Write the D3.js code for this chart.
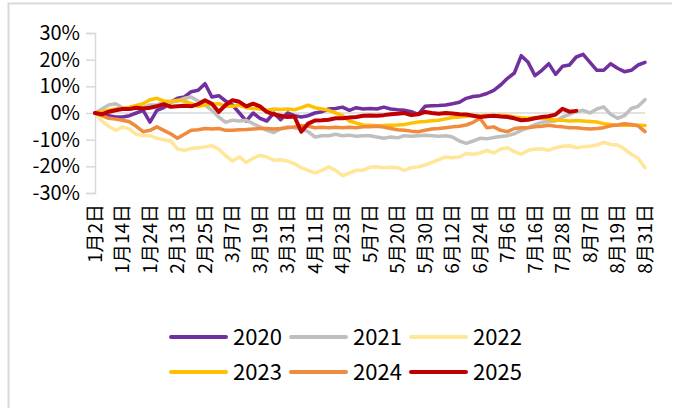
<!DOCTYPE html>
<html lang="zh">

<head>
    <meta charset="UTF-8">
    <title>历年走势对比</title>
    <style>
        body { margin: 0; background: #fff; }
        svg { display: block; }
    </style>
</head>

<body>
    <div>
        <svg id="lineChart"></svg>
    </div>
    <script src="https://cdn.jsdelivr.net/npm/d3@7/dist/d3.min.js"></script>
    <script type="text/javascript">
        // x轴标签, 每8个交易日一个
        const dateLabels = ['1月2日', '1月14日', '1月24日', '2月13日', '2月25日', '3月7日', '3月19日', '3月31日',
            '4月11日', '4月23日', '5月7日', '5月20日', '5月30日', '6月12日', '6月24日', '7月6日', '7月16日',
            '7月28日', '8月7日', '8月19日', '8月31日'];
        const yTicks = [30, 20, 10, 0, -10, -20, -30];
        const years = ['2020', '2021', '2022', '2023', '2024', '2025'];

        // 各年累计涨跌幅(%), 每2个交易日一个点
        const s2020 = [0, -0.5, -1, -1.5, -1.5, -1, 0, 1, -3.4, 1, 2, 4, 5.5, 6, 8, 8.5, 11, 6, 6.5, 4.5,
            3, 0, -3, 0, -2, -3, 0, -2.5, 0, -1, -1.5, -1, 0, 0.5, 1.5, 1.7, 2.2, 1, 2, 1.5,
            1.7, 1.5, 2.2, 1.5, 1.2, 1, 0.5, -0.5, 2.5, 2.7, 2.8, 3, 3.5, 4, 5.5, 6.2, 6.5, 7.3, 8.5, 10.5,
            13, 15, 21.5, 19, 14, 16, 18.5, 14.5, 17.5, 18, 21, 22, 19, 16, 16, 18.5, 16.8, 15.5, 16, 18, 19];
        const s2021 = [0, 1.5, 3, 3.5, 2, 2, 2.5, 2, 3, 3, 4, 4, 4.5, 5.5, 6, 4.5, 3, 1, -1.5, -3.5,
            -2.7, -3, -2.7, -4, -5.2, -6.5, -7.3, -6, -5.2, -5.5, -6, -7, -9, -8.5, -8.5, -8, -8.5, -8.3, -8.7, -8.5,
            -8.5, -9, -9.5, -9, -9.3, -8.5, -8.7, -8.5, -8.3, -8.5, -8.7, -8.5, -9, -10.5, -11.4, -10.5, -9.5, -9.7, -9.2, -8.8,
            -8.5, -7.8, -6.5, -5.5, -4.3, -3.5, -3.2, -3, -1.5, -0.5, 0.5, 1, 0, 1.5, 2.3, -0.5, -2, -1, 1.7, 2.5, 5];
        const s2022 = [0, -3, -5, -6.5, -5.2, -6, -8, -8.5, -8.5, -9.5, -10, -10.5, -13.5, -14, -13.3, -13, -12.7, -12.3, -13.5, -16,
            -18, -16.5, -18.5, -17, -15.9, -16.5, -17.7, -17.5, -18, -19, -20.5, -21.5, -22.5, -21.5, -20.2, -21.5, -23.5, -22.5, -21.5, -21.5,
            -20.3, -20.2, -20.5, -20.3, -20.5, -21.5, -20.5, -20.2, -19.5, -18.5, -17.5, -16.5, -16.8, -16.5, -15.2, -15.5, -15, -14, -15, -13.5,
            -13, -14.5, -15.5, -14, -13.5, -13.5, -14, -13, -12.5, -12.3, -13, -12.7, -12.5, -12, -11, -11.8, -12, -13.5, -15.5, -17, -20.5];
        const s2023 = [0, 0.5, 1, 1.5, 1.7, 2.2, 2.8, 3.5, 5, 5.5, 4.5, 4.3, 4.8, 4.5, 3.5, 2.5, 3, 3.3, 3.5, 2.5,
            2.5, 2.9, 2, 1.7, 1.5, 1, 1.5, 1.3, 1.5, 1.2, 2, 2.9, 2, 1.5, 1, 0, -1, -3, -3.8, -4.5,
            -4.6, -4.8, -4.7, -4.6, -4.5, -4.3, -3.8, -3.4, -3.2, -2.9, -2.7, -2.2, -1.7, -1.5, -1.2, -0.9, -1, -0.9, -1, -0.8,
            -1, -1.5, -1.8, -2, -1.7, -2, -2.3, -2.7, -2.7, -3, -2.8, -3, -3.2, -3.4, -4, -4.3, -4.6, -4.5, -4.6, -4.6, -4.7];
        const s2024 = [0, -1, -2, -2.3, -2.7, -3.3, -5, -7, -6.5, -5.2, -6.5, -7.8, -9.5, -8, -6.5, -6.3, -5.8, -6, -5.8, -6.5,
            -6.5, -6.3, -6.2, -6, -5.8, -5.8, -6, -5.8, -5.5, -5.2, -4.8, -5, -5.5, -5.3, -5.5, -5.3, -5.5, -5.3, -5.5, -5.2,
            -5.2, -5, -5.3, -5.8, -6.3, -6.5, -6.8, -7, -6.5, -6, -5.8, -5.5, -5.2, -5, -4.5, -3.5, -2, -5.5, -5.2, -6.5,
            -7, -5.8, -5.5, -5.5, -5.2, -5, -4.6, -5, -5.2, -5.5, -5.5, -5.8, -6, -5.8, -5.5, -4.8, -4.5, -4, -4.3, -4.8, -7];
        const s2025 = [0, -0.5, 0.5, 1, 1.5, 1.5, 2, 1.7, 2, 2.5, 3.3, 2.3, 2.5, 2.7, 2.5, 3.3, 4.8, 3.5, 0.4, 3,
            4.8, 4.2, 2.5, 3.5, 2.5, 0.4, -0.5, -1, -1.5, -1.3, -7, -4, -2.8, -2.7, -2.5, -2, -2, -1.7, -1.5, -1,
            -0.9, -1, -0.8, -0.5, -0.3, 0, -0.8, -0.5, 0.4, 0, -0.3, 0, -0.2, -0.5, -0.6, -1, -1.5, -1.2, -1, -1.3,
            -1.5, -2, -2.7, -2.5, -2, -1.5, -1.2, -0.6, 1.6, 0.5, 0.8];

        const seriesValues = [s2020, s2021, s2022, s2023, s2024, s2025];
        const colors = ['#7030A0', '#BFBFBF', '#FFE699', '#FFC000', '#F08A3C', '#C00000'];

        window.onload = function () {
            drawLineChart();
        }

        function drawLineChart() {
            const width = 678, height = 408;
            const labelStep = 8; // 标签间隔(交易日)
            const pointStep = 2; // 数据点间隔(交易日)
            const lastIndex = (dateLabels.length - 1) * labelStep;

            let chart = d3.select('#lineChart').attr('width', width).attr('height', height);

            // 外框
            chart.append('path')
                .attr('d', 'M8.5,' + height + 'V3.5H672')
                .attr('fill', 'none')
                .attr('stroke', '#d9d9d9')
                .attr('stroke-width', 2);

            let x = d3.scaleLinear().domain([0, lastIndex]).range([95, 645]);
            let y = d3.scaleLinear().domain([-30, 30]).range([193, 33]);

            // y轴
            let yAxis = chart.append('g')
                .attr('class', 'axis axis--y')
                .attr('transform', 'translate(95,0)')
                .call(d3.axisLeft(y).tickValues(yTicks).tickSize(9).tickPadding(6)
                    .tickFormat(function (d) { return d + '%'; }));
            yAxis.selectAll('path, line').attr('stroke', '#d9d9d9').attr('stroke-width', 1.5);
            yAxis.selectAll('text')
                .attr('fill', '#000')
                .style('font-family', '"Noto Sans CJK SC", "Noto Sans", sans-serif')
                .style('font-size', '20px');

            // 0线
            chart.append('line')
                .attr('x1', x(0)).attr('x2', x(lastIndex))
                .attr('y1', y(0)).attr('y2', y(0))
                .attr('stroke', '#d9d9d9')
                .attr('stroke-width', 1.5);

            // x轴标签
            chart.append('g')
                .attr('class', 'axis axis--x')
                .selectAll('text')
                .data(dateLabels)
                .enter()
                .append('text')
                .attr('transform', function (d, i) {
                    return 'translate(' + x(i * labelStep) + ',204) rotate(-90)';
                })
                .attr('dy', '0.35em')
                .attr('text-anchor', 'end')
                .attr('fill', '#000')
                .style('font-family', '"Noto Sans CJK SC", sans-serif')
                .style('font-size', '19px')
                .text(function (d) { return d; });

            // 折线
            let line = d3.line()
                .x(function (d, i) { return x(i * pointStep); })
                .y(function (d) { return y(d); });

            chart.append('g')
                .attr('class', 'lines')
                .selectAll('path')
                .data(seriesValues)
                .enter()
                .append('path')
                .attr('d', line)
                .attr('fill', 'none')
                .attr('stroke', function (d, i) { return colors[i]; })
                .attr('stroke-width', function (d, i) { return i === 5 ? 4 : 3.5; })
                .attr('stroke-linejoin', 'round')
                .attr('stroke-linecap', 'round');

            // 图例
            let legend = chart.append('g')
                .attr('class', 'legend')
                .selectAll('g')
                .data(years)
                .enter()
                .append('g')
                .attr('transform', function (d, i) {
                    return 'translate(' + (171 + (i % 3) * 120) + ',' + (337 + Math.floor(i / 3) * 35) + ')';
                });

            legend.append('line')
                .attr('x1', 0).attr('x2', 55)
                .attr('stroke', function (d, i) { return colors[i]; })
                .attr('stroke-width', 4)
                .attr('stroke-linecap', 'round');

            legend.append('text')
                .attr('x', 62)
                .attr('dy', '0.35em')
                .attr('fill', '#000')
                .style('font-family', '"Noto Sans CJK SC", "Noto Sans", sans-serif')
                .style('font-size', '22px')
                .text(function (d) { return d; });
        }
    </script>
</body>

</html>
